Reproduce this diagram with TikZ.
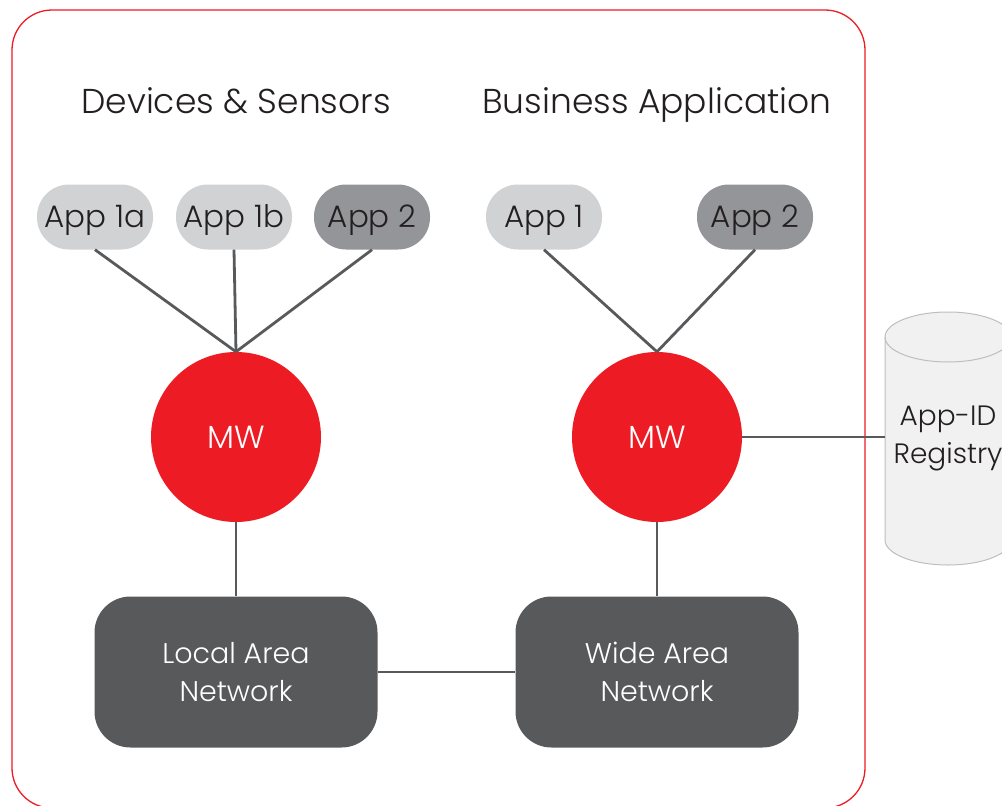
\documentclass[tikz,border=0pt]{standalone}
\usepackage{fontspec}
\IfFontExistsTF{Poppins Light}{\setmainfont{Poppins Light}}{\setmainfont{Poppins}}
\definecolor{mwred}{HTML}{ED1C24}
\definecolor{pilllight}{HTML}{D1D2D4}
\definecolor{pilldark}{HTML}{939598}
\definecolor{netgray}{HTML}{58595B}
\definecolor{linegray}{HTML}{58595B}
\definecolor{cylfill}{HTML}{F1F1F2}
\definecolor{cyldraw}{HTML}{BCBEC0}
\definecolor{txt}{HTML}{231F20}
\tikzset{
  pill/.style={rounded corners=32pt, minimum width=116pt, minimum height=65pt, inner sep=0pt, text=txt, font=\fontsize{31}{36}\selectfont, text height=21.5pt, text depth=0pt},
  pilll/.style={pill, fill=pilllight},
  pilld/.style={pill, fill=pilldark},
  mw/.style={circle, fill=mwred, minimum size=170pt, inner sep=0pt, text=white, font=\fontsize{32}{36}\selectfont, text height=22pt, text depth=0pt},
  net/.style={rounded corners=36pt, fill=netgray, minimum width=283pt, minimum height=151pt, inner sep=0pt, text=white, align=center, font=\fontsize{28.5}{38}\selectfont},
  conn/.style={draw=linegray, line width=2.8pt},
  title/.style={text=txt, font=\fontsize{34.5}{40}\selectfont, anchor=base},
}
\begin{document}
\begin{tikzpicture}[x=1pt,y=-1pt]
\useasboundingbox (0,0) rectangle (1002,806);
% outer frame
\draw[mwred, line width=1.3pt, rounded corners=40pt] (12,10) rectangle (865,808);
% titles
\node[title] (t1) at (236,113) {Devices \& Sensors};
\node[title] (t2) at (657,113) {Business Application};
% apps
\node[pilll] (a1a) at (95,217) {App 1a};
\node[pilll] (a1b) at (234,217) {App 1b};
\node[pilld] (a2l) at (372,217) {App 2};
\node[pilll] (a1r) at (544,217) {App 1};
\node[pilld] (a2r) at (755,217) {App 2};
% MW
\node[mw] (mwl) at (236,437) {MW};
\node[mw] (mwr) at (657,437) {MW};
% networks
\node[net] (lan) at (236,672) {Local Area\\Network};
\node[net] (wan) at (657,672) {Wide Area\\Network};
% cylinder
\fill[cylfill] (885,337) -- (885,540) arc[start angle=180,end angle=360,x radius=63pt,y radius=25pt] -- (1011,337) arc[start angle=0,end angle=180,x radius=63pt,y radius=25pt] -- cycle;
\draw[cyldraw, line width=1pt] (885,337) -- (885,540) arc[start angle=180,end angle=360,x radius=63pt,y radius=25pt] -- (1011,337);
\draw[cyldraw, line width=1pt] (948,337) ellipse[x radius=63pt,y radius=25pt];
\node[text=txt, align=center, font=\fontsize{28}{38}\selectfont] (reg) at (948,438) {App-ID\\Registry};
\coordinate (regin) at (885,437);
% connectors
\draw[conn] (a1a.south) -- (mwl.north);
\draw[conn] (a1b.south) -- (mwl.north);
\draw[conn] (a2l.south) -- (mwl.north);
\draw[conn] (a1r.south) -- (mwr.north);
\draw[conn] (a2r.south) -- (mwr.north);
\draw[conn] (mwl.south) -- (lan.north);
\draw[conn] (mwr.south) -- (wan.north);
\draw[conn] (lan.east) -- (wan.west);
\draw[conn] (mwr.east) -- (regin);
\end{tikzpicture}
\end{document}
